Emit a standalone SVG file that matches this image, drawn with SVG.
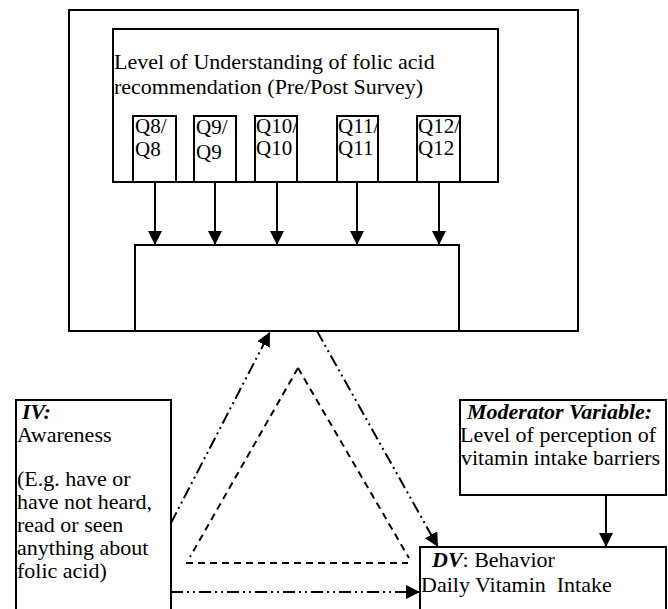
<svg xmlns="http://www.w3.org/2000/svg" width="668" height="609" viewBox="0 0 668 609">
<style>
.box{fill:none;stroke:#000;stroke-width:2}
.t{font-family:"Liberation Serif","Times New Roman",serif;font-size:22px;fill:#000}
.q{font-family:"Liberation Serif","Times New Roman",serif;font-size:21px;fill:#000}
.bi{font-weight:bold;font-style:italic}
.solid{stroke:#000;stroke-width:2;fill:none}
.dd{stroke:#000;stroke-width:2;fill:none;stroke-dasharray:12 4 2 4 2 4}
.dash{stroke:#000;stroke-width:2;fill:none;stroke-dasharray:7 5}
</style>
<defs>
<marker id="ah" viewBox="0 0 14 14" refX="14" refY="7" markerWidth="14" markerHeight="14" markerUnits="userSpaceOnUse" orient="auto">
<path d="M0,0 L14,7 L0,14 z" fill="#000"/>
</marker>
</defs>
<rect width="668" height="609" fill="#fff"/>

<g id="outer">
<rect class="box" x="69" y="10" width="509" height="321"/>
</g>

<g id="survey">
<rect class="box" x="113" y="29" width="385" height="153"/>
<text class="t" x="114" y="69">Level of Understanding of folic acid</text>
<text class="t" x="114" y="94">recommendation (Pre/Post Survey)</text>
</g>

<g id="q8">
<rect class="box" x="133" y="116" width="43" height="66"/>
<text class="q" x="135" y="133">Q8/</text>
<text class="q" x="135" y="156">Q8</text>
</g>
<g id="q9">
<rect class="box" x="194" y="116" width="42" height="66"/>
<text class="q" x="196" y="134">Q9/</text>
<text class="q" x="196" y="159">Q9</text>
</g>
<g id="q10">
<rect class="box" x="255" y="116" width="42" height="66"/>
<text class="q" x="256" y="133">Q10/</text>
<text class="q" x="256" y="155">Q10</text>
</g>
<g id="q11">
<rect class="box" x="337" y="116" width="41" height="66"/>
<text class="q" x="338" y="133">Q11/</text>
<text class="q" x="338" y="155">Q11</text>
</g>
<g id="q12">
<rect class="box" x="417" y="116" width="43" height="66"/>
<text class="q" x="418" y="133">Q12/</text>
<text class="q" x="418" y="155">Q12</text>
</g>

<g id="middle">
<rect class="box" x="135" y="245" width="324" height="86"/>
</g>

<g id="iv">
<rect class="box" x="16" y="400" width="155" height="215"/>
<text class="t" x="22" y="419"><tspan class="bi">IV:</tspan></text>
<text class="t" x="17" y="442">Awareness</text>
<text class="t" x="17" y="486">(E.g. have or</text>
<text class="t" x="17" y="509">have not heard,</text>
<text class="t" x="17" y="532">read or seen</text>
<text class="t" x="17" y="555">anything about</text>
<text class="t" x="17" y="578">folic acid)</text>
</g>

<g id="moderator">
<rect class="box" x="460" y="400" width="206" height="95"/>
<text class="t" x="467" y="419"><tspan class="bi">Moderator Variable:</tspan></text>
<text class="t" x="460" y="442">Level of perception of</text>
<text class="t" x="461" y="465">vitamin intake barriers</text>
</g>

<g id="dv">
<rect class="box" x="420" y="547" width="246" height="70"/>
<text class="t" x="432" y="567"><tspan class="bi">DV</tspan>: Behavior</text>
<text class="t" x="421" y="592">Daily Vitamin&#160; Intake</text>
</g>

<g id="connectors">
<line class="solid" x1="155" y1="182" x2="155" y2="245" marker-end="url(#ah)"/>
<line class="solid" x1="215" y1="182" x2="215" y2="245" marker-end="url(#ah)"/>
<line class="solid" x1="277" y1="182" x2="277" y2="245" marker-end="url(#ah)"/>
<line class="solid" x1="357" y1="182" x2="357" y2="245" marker-end="url(#ah)"/>
<line class="solid" x1="439" y1="182" x2="439" y2="245" marker-end="url(#ah)"/>
<line class="solid" x1="606" y1="495" x2="606" y2="547" marker-end="url(#ah)"/>
<line class="dd" x1="171" y1="523" x2="270" y2="332" marker-end="url(#ah)"/>
<line class="dd" x1="317" y1="331" x2="438" y2="547" marker-end="url(#ah)"/>
<line class="dd" x1="171" y1="592" x2="420" y2="592" marker-end="url(#ah)"/>
<line class="dash" x1="298" y1="368" x2="190" y2="557"/>
<line class="dash" x1="298" y1="368" x2="409" y2="558"/>
<line class="dash" x1="186" y1="563" x2="408" y2="563"/>
</g>
</svg>
